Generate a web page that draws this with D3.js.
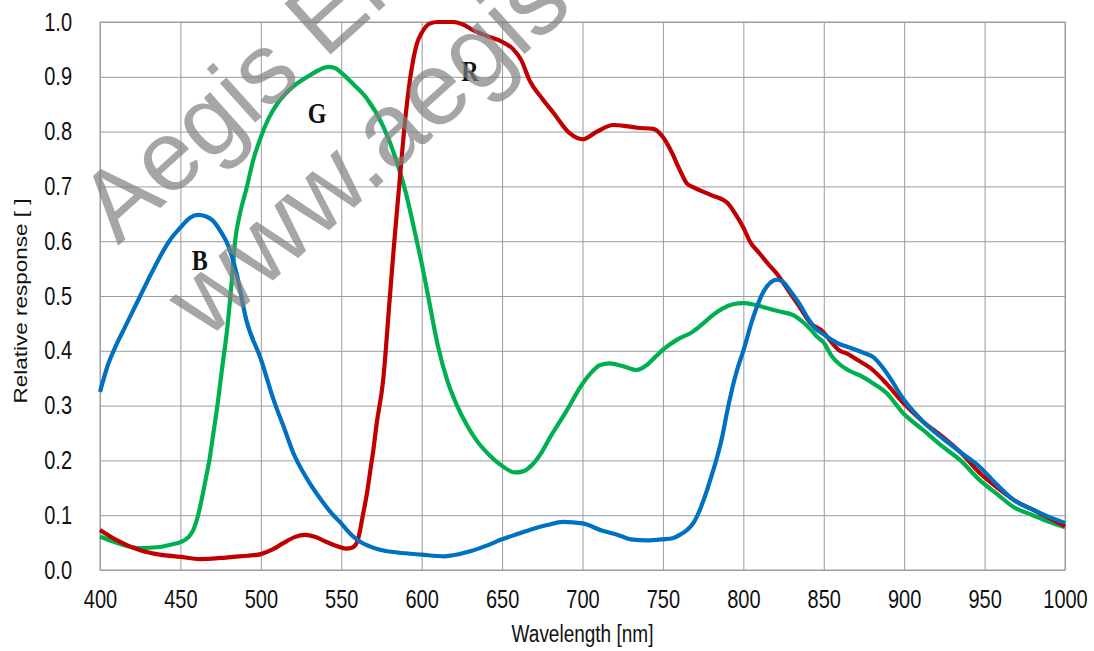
<!DOCTYPE html>
<html>
<head>
<meta charset="utf-8">
<script src="https://cdn.jsdelivr.net/npm/d3@7"></script>
<style>
  body { margin: 0; background: #fff; }
  text { font-family: Arial, "Liberation Sans", sans-serif; }
</style>
</head>
<body>
<div id="graph"></div>
<script>

// Chart size and plot area
var svgWidth = 1094;
var svgHeight = 651;
var margin = { top: 22, right: 29, bottom: 81, left: 100 };
var plotW = svgWidth - margin.left - margin.right;
var plotH = svgHeight - margin.top - margin.bottom;
var textStretch = 1.25; // text in the picture is taller than it is wide

// Tick labels
var xTicks = [400, 450, 500, 550, 600, 650, 700, 750, 800, 850, 900, 950, 1000];
var yTicks = [0, 0.1, 0.2, 0.3, 0.4, 0.5, 0.6, 0.7, 0.8, 0.9, 1.0];

// Blue channel (wavelength nm / relative response)
var blueNm = [400, 405, 410, 415, 420, 425, 430, 437, 443, 450, 456, 461, 466, 470, 475, 480, 485, 491, 500, 508,
  515, 520, 528, 537, 545, 550, 555, 560, 567, 574, 585, 600, 614, 630, 640, 650, 660, 668, 678, 688,
  700, 713, 722, 730, 740, 750, 756, 761, 765, 769, 773, 777, 780, 783.5, 787, 790, 796, 800, 806, 812,
  817, 821, 825, 829, 835, 840, 845, 850, 855, 860, 865, 875, 881, 889, 900, 912, 924, 935, 947, 958,
  968, 980, 990, 1000];
var blueResp = [0.325, 0.375, 0.41, 0.44, 0.47, 0.50, 0.53, 0.57, 0.60, 0.625, 0.643, 0.648, 0.645, 0.638, 0.618, 0.59, 0.54, 0.456, 0.385, 0.31,
  0.255, 0.215, 0.17, 0.13, 0.1, 0.085, 0.068, 0.055, 0.044, 0.037, 0.032, 0.028, 0.025, 0.034, 0.044, 0.056, 0.066, 0.074, 0.082, 0.088,
  0.085, 0.071, 0.064, 0.056, 0.054, 0.056, 0.058, 0.065, 0.073, 0.086, 0.11, 0.142, 0.17, 0.204, 0.245, 0.29, 0.364, 0.40, 0.46, 0.505,
  0.525, 0.53, 0.525, 0.51, 0.485, 0.46, 0.44, 0.43, 0.42, 0.412, 0.407, 0.396, 0.388, 0.36, 0.31, 0.27, 0.24, 0.215, 0.188, 0.155,
  0.128, 0.11, 0.097, 0.086];

// Green channel
var greenNm = [400, 410, 418, 425, 437, 445, 450, 455, 458, 461, 464, 466, 468, 470, 473, 476, 479, 482, 484, 487,
  491.4, 495, 500, 505, 510, 515, 520, 530, 536, 542, 546, 551, 558, 566, 576, 584, 590,
  597, 600, 604, 610, 616, 622, 628, 634, 642, 650, 658, 663, 668, 674, 680, 690, 700, 706, 711, 717,
  725, 733.6, 740, 745, 750, 758.6, 768.7, 775, 781, 787, 793.5, 800, 807, 814.6, 822, 831, 836, 841.5, 846, 850,
  855, 860, 865, 874.5, 881, 889, 899.4, 912, 924, 935, 947, 958, 968, 980, 990, 1000];
var greenResp = [0.061, 0.05, 0.043, 0.04, 0.042, 0.047, 0.051, 0.06, 0.073, 0.1, 0.14, 0.17, 0.2, 0.24, 0.3, 0.37, 0.438, 0.53, 0.6, 0.65,
  0.70, 0.745, 0.79, 0.825, 0.85, 0.868, 0.882, 0.902, 0.912, 0.918, 0.916, 0.905, 0.885, 0.86, 0.81, 0.75, 0.69,
  0.6, 0.56, 0.5, 0.41, 0.345, 0.3, 0.265, 0.237, 0.21, 0.19, 0.178, 0.18, 0.19, 0.212, 0.243, 0.29, 0.34, 0.362, 0.374, 0.377,
  0.372, 0.365, 0.374, 0.388, 0.402, 0.42, 0.435, 0.45, 0.465, 0.477, 0.485, 0.487, 0.484, 0.478, 0.472, 0.465, 0.455, 0.44, 0.425, 0.415,
  0.39, 0.375, 0.365, 0.352, 0.34, 0.323, 0.286, 0.255, 0.225, 0.2, 0.164, 0.138, 0.115, 0.1, 0.088, 0.078];

// Red channel
var redNm = [400, 410, 425, 437, 450, 462, 475, 483, 492, 500, 507, 514, 521, 527.5, 534, 541, 547, 553, 557, 560,
  563.7, 566, 568, 570, 572, 576, 580, 583, 586, 589, 593, 597, 600, 605, 610, 620, 626, 632, 640, 650,
  657, 662, 667, 675, 682, 692, 700, 709, 719, 727, 734, 744, 750, 755, 760.5, 765, 770, 780, 790, 795,
  800, 804, 810, 815, 821, 828, 835, 842, 849.5, 855, 860, 864.5, 870, 880.5, 889, 899.4, 912, 924, 935, 947,
  958, 968, 980, 990, 1000];
var redResp = [0.073, 0.055, 0.036, 0.028, 0.024, 0.02, 0.022, 0.024, 0.026, 0.029, 0.037, 0.049, 0.06, 0.064, 0.06, 0.051, 0.044, 0.039, 0.041, 0.052,
  0.104, 0.14, 0.18, 0.22, 0.267, 0.345, 0.49, 0.6, 0.7, 0.8, 0.9, 0.96, 0.98, 0.997, 1.0, 1.0, 0.995, 0.985, 0.975, 0.964,
  0.95, 0.93, 0.894, 0.86, 0.834, 0.797, 0.786, 0.80, 0.812, 0.81, 0.807, 0.805, 0.79, 0.765, 0.73, 0.705, 0.697, 0.684, 0.67, 0.65,
  0.625, 0.6, 0.578, 0.56, 0.54, 0.51, 0.48, 0.45, 0.435, 0.415, 0.40, 0.395, 0.385, 0.365, 0.34, 0.305, 0.27, 0.243, 0.215, 0.177,
  0.15, 0.128, 0.11, 0.095, 0.08];

// Channel letters placed next to each curve (nm, response)
var curveLabels = ['B', 'G', 'R'];
var labelNm = [462, 535, 630];
var labelResp = [0.566, 0.834, 0.911];

var svg = d3.select('#graph')
  .append('svg')
  .attr('width', svgWidth)
  .attr('height', svgHeight);

var plot = svg.append('g')
  .attr('transform', 'translate(' + margin.left + ',' + margin.top + ')');

// Scales
var x = d3.scaleLinear().domain([400, 1000]).range([0, plotW]);
var y = d3.scaleLinear().domain([0, 1]).range([plotH, 0]);

// X axis with vertical grid lines
var xAxis = plot.append('g')
  .attr('transform', 'translate(0,' + plotH + ')')
  .call(d3.axisBottom(x).tickValues(xTicks).tickSize(-plotH).tickPadding(16).tickFormat(d3.format('d')));

// Y axis with horizontal grid lines
var yAxis = plot.append('g')
  .call(d3.axisLeft(y).tickValues(yTicks).tickSize(-plotW).tickPadding(28).tickFormat(d3.format('.1f')));

// Style both axes like the picture
[xAxis, yAxis].forEach(function (ax) {
  ax.select('.domain').remove();
  ax.selectAll('line').attr('stroke', '#9c9c9c').attr('stroke-width', 1);
  ax.selectAll('text')
    .attr('fill', '#111')
    .style('font-size', '20px')
    .attr('transform', 'scale(1,' + textStretch + ')');
});

// Plot border
plot.append('rect')
  .attr('width', plotW)
  .attr('height', plotH)
  .attr('fill', 'none')
  .attr('stroke', '#9c9c9c')
  .attr('stroke-width', 1);

// Curves
var line = d3.line()
  .x(function (d) { return x(d[0]); })
  .y(function (d) { return y(d[1]); })
  .curve(d3.curveMonotoneX);

var series = [
  { nm: greenNm, resp: greenResp, color: '#00b050' },
  { nm: redNm, resp: redResp, color: '#c00000' },
  { nm: blueNm, resp: blueResp, color: '#0070c0' }
];

series.forEach(function (s) {
  plot.append('path')
    .datum(d3.zip(s.nm, s.resp))
    .attr('fill', 'none')
    .attr('stroke', s.color)
    .attr('stroke-width', 4.2)
    .attr('stroke-linejoin', 'round')
    .attr('d', line);
});

// B / G / R letters
plot.selectAll('.curve-label')
  .data(curveLabels)
  .enter()
  .append('text')
  .attr('class', 'curve-label')
  .attr('transform', function (d, i) {
    return 'translate(' + x(labelNm[i]) + ',' + y(labelResp[i]) + ') scale(1,' + textStretch + ')';
  })
  .attr('text-anchor', 'middle')
  .attr('dy', '0.35em')
  .style('font-family', '"Liberation Serif", "DejaVu Serif", serif')
  .style('font-weight', 'bold')
  .style('font-size', '24px')
  .attr('fill', '#111')
  .text(function (d) { return d; });

// Axis titles
svg.append('text')
  .attr('transform', 'translate(' + (margin.left + plotW / 2) + ',642) scale(1,' + textStretch + ')')
  .attr('text-anchor', 'middle')
  .style('font-size', '19px')
  .attr('fill', '#111')
  .text('Wavelength [nm]');

svg.append('text')
  .attr('transform', 'translate(27,' + (margin.top + plotH / 2 + 5) + ') scale(1,' + textStretch + ') rotate(-90)')
  .attr('text-anchor', 'middle')
  .style('font-size', '18px')
  .attr('fill', '#111')
  .text('Relative response [ ]');

// Watermark over the chart
svg.append('text')
  .attr('transform', 'translate(118,246) rotate(-42)')
  .style('font-size', '100px')
  .attr('fill', '#808080')
  .attr('fill-opacity', 0.7)
  .text('Aegis Electronic Group');

svg.append('text')
  .attr('transform', 'translate(206,341) rotate(-42)')
  .style('font-size', '104px')
  .attr('fill', '#808080')
  .attr('fill-opacity', 0.7)
  .text('www.aegis-elec.com');

</script>
</body>
</html>
